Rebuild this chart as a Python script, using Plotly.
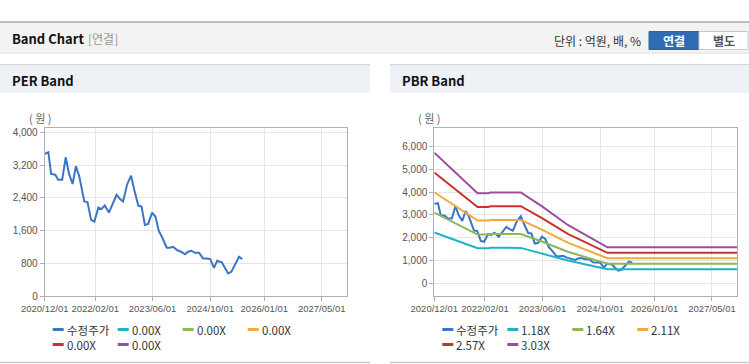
import plotly.graph_objects as go

W, H = 749, 364

# ---------------- data ----------------
price_dates = [
    "2020-12-01", "2021-01-01", "2021-01-24", "2021-02-28", "2021-03-25", "2021-04-28",
    "2021-05-28", "2021-06-25", "2021-07-25", "2021-08-22", "2021-09-19", "2021-11-01",
    "2021-11-28", "2021-12-28", "2022-01-25", "2022-02-28", "2022-03-25", "2022-04-23",
    "2022-05-28", "2022-06-28", "2022-08-01", "2022-08-28", "2022-09-25", "2022-10-28",
    "2022-12-01", "2022-12-28", "2023-02-01", "2023-02-28", "2023-03-28", "2023-04-25",
    "2023-05-28", "2023-06-25", "2023-07-24", "2023-08-25", "2023-09-28", "2023-10-25",
    "2023-11-22", "2023-12-25", "2024-01-28", "2024-03-01", "2024-03-28", "2024-04-25",
    "2024-05-24", "2024-06-28", "2024-08-01", "2024-09-01", "2024-10-01", "2024-11-01",
    "2024-11-28", "2025-01-07", "2025-02-01", "2025-03-01", "2025-03-28", "2025-05-04",
    "2025-06-01", "2025-06-28",
]
price_values = [
    3475, 3515, 2984, 2967, 2844, 2844,
    3392, 2984, 2738, 3171, 2925, 2311,
    2296, 1861, 1819, 2163, 2124, 2212,
    2040, 2271, 2475, 2377, 2311, 2721,
    2942, 2598, 2205, 2188, 1738, 1762,
    2040, 1942, 1590, 1411, 1180, 1180,
    1204, 1123, 1082, 1018, 1082, 1106,
    1057, 1057, 919, 919, 902, 688,
    860, 821, 688, 551, 590, 796,
    959, 902,
]

band_dates = [
    "2020-12-01", "2021-06-01", "2021-12-01", "2022-03-01", "2022-03-20",
    "2022-12-01", "2023-06-01", "2024-01-01", "2024-12-01", "2027-12-01",
]
pbr_band_118 = [2230, 1884, 1538, 1538, 1553, 1552, 1309, 996, 614, 614]
pbr_band_164 = [3100, 2619, 2137, 2137, 2158, 2157, 1819, 1384, 853, 853]
pbr_band_211 = [3988, 3370, 2749, 2749, 2777, 2775, 2340, 1781, 1097, 1097]
pbr_band_257 = [4857, 4104, 3349, 3349, 3382, 3380, 2850, 2169, 1336, 1336]
pbr_band_303 = [5727, 4839, 3948, 3948, 3987, 3984, 3360, 2557, 1576, 1576]

per_labels = ["수정주가", "0.00X", "0.00X", "0.00X", "0.00X", "0.00X"]
pbr_labels = ["수정주가", "1.18X", "1.64X", "2.11X", "2.57X", "3.03X"]

x_tickvals = ["2020-12-01", "2022-02-01", "2023-06-01", "2024-10-01", "2026-01-01", "2027-05-01"]
x_ticktext = ["2020/12/01", "2022/02/01", "2023/06/01", "2024/10/01", "2026/01/01", "2027/05/01"]
per_yticks = [0, 800, 1600, 2400, 3200, 4000]
pbr_yticks = [0, 1000, 2000, 3000, 4000, 5000, 6000]

colors = ["#3b76c6", "#1fb3c6", "#8db65a", "#f2a93b", "#cf302b", "#9a4f9e"]

# ---------------- helpers ----------------
def px(x):
    return x / W

def py(y):
    return 1 - y / H

KFONT = "Noto Sans CJK KR, Noto Sans, sans-serif"
NFONT = "Liberation Sans, Arial, sans-serif"

fig = go.Figure()

# PER chart (bands have no values)
fig.add_trace(go.Scatter(x=price_dates, y=price_values, mode="lines", name=per_labels[0],
                         line=dict(color=colors[0], width=2), xaxis="x", yaxis="y"))
for i in range(1, 6):
    fig.add_trace(go.Scatter(x=[], y=[], mode="lines", name=per_labels[i],
                             line=dict(color=colors[i], width=2), xaxis="x", yaxis="y"))

# PBR chart
fig.add_trace(go.Scatter(x=price_dates, y=price_values, mode="lines", name=pbr_labels[0],
                         line=dict(color=colors[0], width=2), xaxis="x2", yaxis="y2"))
for i, band in enumerate([pbr_band_118, pbr_band_164, pbr_band_211, pbr_band_257, pbr_band_303], start=1):
    fig.add_trace(go.Scatter(x=band_dates, y=band, mode="lines", name=pbr_labels[i],
                             line=dict(color=colors[i], width=2), xaxis="x2", yaxis="y2"))

axis_common = dict(
    showline=True, mirror=True, linecolor="#b0b0b0", linewidth=1,
    showgrid=True, gridcolor="#e6e6e6", gridwidth=1,
    ticks="outside", ticklen=4, tickcolor="#b0b0b0",
    zeroline=False, fixedrange=True, tickangle=0, automargin=False,
)

ydom = [py(296), py(128.3)]
xfont = dict(family=NFONT, size=9.5, color="#555555")
yfont = dict(family=NFONT, size=10, color="#555555")

fig.update_layout(
    template="none",
    width=W, height=H, autosize=False,
    margin=dict(l=0, r=0, t=0, b=0, pad=0),
    paper_bgcolor="white", plot_bgcolor="white",
    showlegend=False,
    font=dict(family=KFONT, size=11, color="#333333"),
    xaxis=dict(domain=[px(44.7), px(347)], range=["2020-12-01", "2027-12-01"], type="date",
               tickvals=x_tickvals, ticktext=x_ticktext, anchor="y", tickfont=xfont, **axis_common),
    yaxis=dict(domain=ydom, range=[0, 4100], tickvals=per_yticks, tickformat=",d",
               anchor="x", tickfont=yfont, **axis_common),
    xaxis2=dict(domain=[px(434.3), px(737.3)], range=["2020-12-01", "2027-12-01"], type="date",
                tickvals=x_tickvals, ticktext=x_ticktext, anchor="y2", tickfont=xfont, **axis_common),
    yaxis2=dict(domain=ydom, range=[-560, 6800], tickvals=pbr_yticks, tickformat=",d",
                anchor="x2", tickfont=yfont, **axis_common),
)

shapes = []
ann = []

def rect(x0, y0, x1, y1, fill, line_color=None, lw=0):
    shapes.append(dict(type="rect", xref="paper", yref="paper",
                       x0=px(x0), x1=px(x1), y0=py(y1), y1=py(y0),
                       fillcolor=fill, line=dict(color=line_color or fill, width=lw),
                       layer="below"))

def hline(x0, x1, y, color, w=1, layer="below"):
    shapes.append(dict(type="line", xref="paper", yref="paper",
                       x0=px(x0), x1=px(x1), y0=py(y), y1=py(y),
                       line=dict(color=color, width=w), layer=layer))

def text(x, y, s, size=11, color="#333333", family=KFONT, anchor="left"):
    ann.append(dict(xref="paper", yref="paper", x=px(x), y=py(y), text=s, showarrow=False,
                    xanchor=anchor, yanchor="middle", borderpad=0,
                    font=dict(size=size, color=color, family=family)))

# top header bar
rect(0, 22, W, 52.5, "#f3f3f3")
hline(0, W, 22, "#a8a8a8", 1.5)
hline(0, W, 53, "#dcdcdc", 1)
text(11, 39, "<b>Band Chart</b>", size=13, color="#111111")
text(87, 39, "[연결]", size=12, color="#999999")
text(642, 40, "단위 : 억원, 배, %", size=12, color="#333333", anchor="right")
rect(649, 31.5, 699, 49.5, "#2f6cb4", "#2a62a6", 1)
text(674, 40.5, "<b>연결</b>", size=12, color="white", anchor="center")
rect(699, 31.5, 748, 49.5, "#ffffff", "#c8c8c8", 1)
text(723.5, 40.5, "<b>별도</b>", size=12, color="#555555", anchor="center")

# panels
for (x0, x1, title) in [(0, 370, "PER Band"), (390, W, "PBR Band")]:
    rect(x0, 64.5, x1, 93, "#eef2f7")
    hline(x0, x1, 64.5, "#d6d6d6", 1)
    hline(x0, x1, 362.5, "#cccccc", 1.5)
    text(x0 + 11, 80.5, "<b>" + title + "</b>", size=13, color="#111111")

text(39.5, 118, "( 원 )", size=11, color="#666666", anchor="center")
text(429, 118, "( 원 )", size=11, color="#666666", anchor="center")

# legends
for base, labels in [(52.7, per_labels), (442.3, pbr_labels)]:
    for i, lab in enumerate(labels):
        col = i % 4
        row = i // 4
        x0 = base + 65 * col
        yy = 329.5 if row == 0 else 344.5
        hline(x0, x0 + 11, yy, colors[i], 3, layer="above")
        text(x0 + 13, yy, lab, size=11.5, color="#333333")

fig.update_layout(shapes=shapes, annotations=ann)

fig.write_html(
    "out.html", config={"displayModeBar": False},
    post_script=("document.documentElement.style.overflow='hidden';"
                 "document.body.style.overflow='hidden';"
                 "document.body.style.margin='0';document.body.style.padding='0';"),
)
